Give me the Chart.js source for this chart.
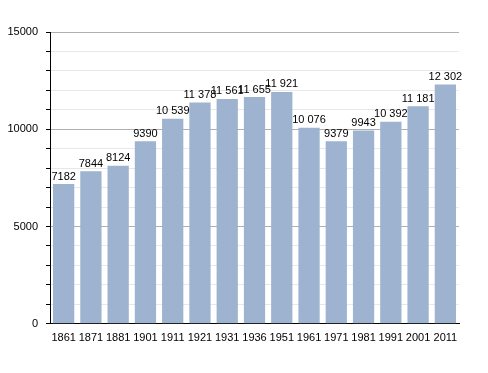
<!DOCTYPE html>
<html>
<head>
<meta charset="utf-8">
<script src="https://cdn.jsdelivr.net/npm/chart.js@4"></script>
<style>
  html, body { margin: 0; padding: 0; background: #fff; }
  #wrap { width: 488px; height: 373px; }
</style>
</head>
<body>
<div id="wrap"><canvas id="popChart" width="488" height="373"></canvas></div>
<script>
// population par recensement
var years = ['1861', '1871', '1881', '1901', '1911', '1921', '1931', '1936', '1951', '1961', '1971', '1981', '1991', '2001', '2011'];
var population = [7182, 7844, 8124, 9390, 10539, 11378, 11561, 11655, 11921, 10076, 9379, 9943, 10392, 11181, 12302];
var yMax = 15000;
var yStep = 1000;
var yMajor = 5000;

function fmt(v) {
  if (v < 10000) return String(v);
  return String(v).replace(/\B(?=(\d{3})+(?!\d))/g, ' ');
}

var valueLabels = {
  id: 'valueLabels',
  afterDatasetsDraw: function(chart) {
    var ctx = chart.ctx;
    var meta = chart.getDatasetMeta(0);
    ctx.save();
    ctx.font = '11px "Liberation Sans", Arial, sans-serif';
    ctx.fillStyle = '#000';
    ctx.textAlign = 'center';
    ctx.textBaseline = 'bottom';
    meta.data.forEach(function(bar, i) {
      ctx.fillText(fmt(population[i]), bar.x, bar.y - 2);
    });
    ctx.restore();
  }
};

new Chart(document.getElementById('popChart'), {
  type: 'bar',
  data: {
    labels: years,
    datasets: [{
      data: population,
      backgroundColor: '#9db3cf',
      borderWidth: 0,
      barPercentage: 0.78,
      categoryPercentage: 1
    }]
  },
  options: {
    responsive: false,
    animation: false,
    layout: { padding: { top: 32, right: 29, bottom: 28, left: 0 } },
    plugins: { legend: { display: false }, tooltip: { enabled: false } },
    scales: {
      x: {
        grid: { display: false },
        border: { color: '#000', width: 1 },
        ticks: { color: '#000', font: { family: '"Liberation Sans", Arial, sans-serif', size: 11 }, padding: 0, maxRotation: 0, autoSkip: false }
      },
      y: {
        min: 0,
        max: yMax,
        afterFit: function(scale) { scale.width = 50; },
        border: { color: '#000', width: 1 },
        grid: {
          color: function(c) { return c.tick.value % yMajor === 0 ? '#b0b0b0' : '#e8e8e8'; },
          tickColor: '#000',
          tickLength: 4,
          drawOnChartArea: true
        },
        ticks: {
          stepSize: yStep,
          color: '#000',
          padding: 8,
          font: { family: '"Liberation Sans", Arial, sans-serif', size: 11 },
          callback: function(v) { return v % yMajor === 0 ? String(v) : ''; }
        }
      }
    }
  },
  plugins: [valueLabels]
});
</script>
</body>
</html>
